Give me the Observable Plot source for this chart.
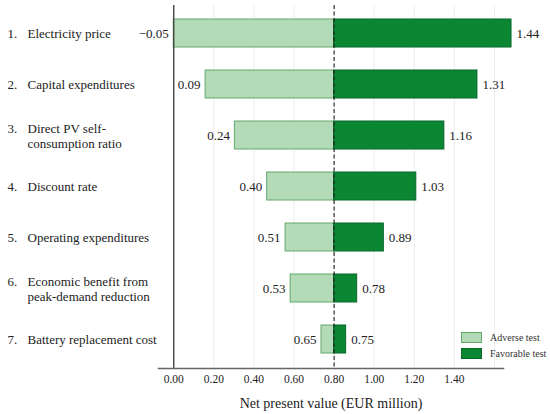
<!DOCTYPE html>
<html>
<head>
<meta charset="utf-8">
<script src="https://cdn.jsdelivr.net/npm/d3@7"></script>
<script src="https://cdn.jsdelivr.net/npm/@observablehq/plot@0.6"></script>
</head>
<body style="margin:0;padding:0;background:#fff">
<div id="wrap" style="position:relative;width:550px;height:414px;font-family:'Liberation Serif', serif"></div>
<script>
// Parameters (sensitivity tests)
const numbers = ["1.", "2.", "3.", "4.", "5.", "6.", "7."];
const names = [
  "Electricity price",
  "Capital expenditures",
  "Direct PV self-\nconsumption ratio",
  "Discount rate",
  "Operating expenditures",
  "Economic benefit from\npeak-demand reduction",
  "Battery replacement cost"
];
// bar end positions as drawn on the axis
const adverseEnd = [0.0, 0.159, 0.305, 0.466, 0.558, 0.583, 0.737];
const favorableEnd = [1.685, 1.515, 1.35, 1.21, 1.048, 0.915, 0.86];
// printed value labels
const adverseLabel = [-0.05, 0.09, 0.24, 0.40, 0.51, 0.53, 0.65];
const favorableLabel = [1.44, 1.31, 1.16, 1.03, 0.89, 0.78, 0.75];
const baseValue = 0.80;
const tickValues = [0, 0.2, 0.4, 0.6, 0.8, 1.0, 1.2, 1.4];
const gridValues = [0.2, 0.4, 0.6, 0.8, 1.0, 1.2, 1.4, 1.6];
const legendLabels = ["Adverse test", "Favorable test"];

const colors = {
  advFill: "#b4dbb7", advStroke: "#62a96b",
  favFill: "#0b8734", favStroke: "#06672a"
};

const data = names.map((n, i) => ({
  key: n,
  num: numbers[i] + (n.includes("\n") ? "\n " : ""),
  a: adverseEnd[i], f: favorableEnd[i],
  al: adverseLabel[i], fl: favorableLabel[i]
}));

const fmt = d3.format(".2f");
const FF = "Liberation Serif";
const ink = "#222";

const chart = Plot.plot({
  width: 550,
  height: 414,
  marginTop: 5,
  marginBottom: 46,
  marginLeft: 158,
  marginRight: 47,
  style: { background: "#fff", color: ink },
  x: { domain: [-0.076, 1.645] },
  y: { domain: names, paddingInner: 0.45, paddingOuter: 0.225, axis: null },
  marks: [
    Plot.gridX(gridValues, { stroke: "#ececec", strokeOpacity: 1, strokeWidth: 1 }),
    Plot.barX(data, { y: "key", x1: baseValue, x2: "a", fill: colors.advFill, stroke: colors.advStroke, strokeWidth: 1 }),
    Plot.barX(data, { y: "key", x1: baseValue, x2: "f", fill: colors.favFill, stroke: colors.favStroke, strokeWidth: 1 }),
    Plot.ruleX([baseValue], { stroke: ink, strokeWidth: 1.1, strokeDasharray: "4,2.5" }),
    Plot.ruleX([0], { stroke: "#444", strokeWidth: 1.4 }),
    Plot.frame({ anchor: "bottom", stroke: "#666", strokeWidth: 1.6 }),
    Plot.axisX(tickValues, { tickFormat: fmt, tickSize: 0, tickPadding: 6, fontSize: 11.5, fontFamily: FF, label: null, fill: ink }),
    Plot.text(["Net present value (EUR million)"], { frameAnchor: "bottom", dy: 35, fontSize: 14, fontFamily: FF, fill: ink, lineAnchor: "middle" }),
    Plot.text(data, { y: "key", x: "a", text: d => fmt(d.al), textAnchor: "end", dx: -5, fontSize: 13, fontFamily: FF, fill: ink }),
    Plot.text(data, { y: "key", x: "f", text: d => fmt(d.fl), textAnchor: "start", dx: 5, fontSize: 13, fontFamily: FF, fill: ink }),
    Plot.text(data, { y: "key", text: "num", frameAnchor: "left", dx: -151, textAnchor: "start", fontSize: 13, fontFamily: FF, fill: ink, lineAnchor: "middle", lineHeight: 1.15 }),
    Plot.text(data, { y: "key", text: "key", frameAnchor: "left", dx: -131, textAnchor: "start", fontSize: 13, fontFamily: FF, fill: ink, lineAnchor: "middle", lineHeight: 1.15 })
  ]
});

chart.style.display = "block";
d3.select(chart).selectAll("text").style("font-family", "'Liberation Serif', serif");

const wrap = document.getElementById("wrap");
wrap.appendChild(chart);

const legend = document.createElement("div");
Object.assign(legend.style, {
  position: "absolute", left: "461px", top: "329px",
  fontSize: "10px", color: "#333", fontFamily: "'Liberation Serif', serif"
});
const swatches = [[colors.advFill, colors.advStroke], [colors.favFill, colors.favStroke]];
legendLabels.forEach((lab, i) => {
  const row = document.createElement("div");
  Object.assign(row.style, { display: "flex", alignItems: "center", height: "16.5px" });
  const sw = document.createElement("span");
  Object.assign(sw.style, {
    width: "19px", height: "9px", marginRight: "8px",
    background: swatches[i][0], border: "1px solid " + swatches[i][1]
  });
  const t = document.createElement("span");
  t.textContent = lab;
  row.appendChild(sw);
  row.appendChild(t);
  legend.appendChild(row);
});
wrap.appendChild(legend);
</script>
</body>
</html>
